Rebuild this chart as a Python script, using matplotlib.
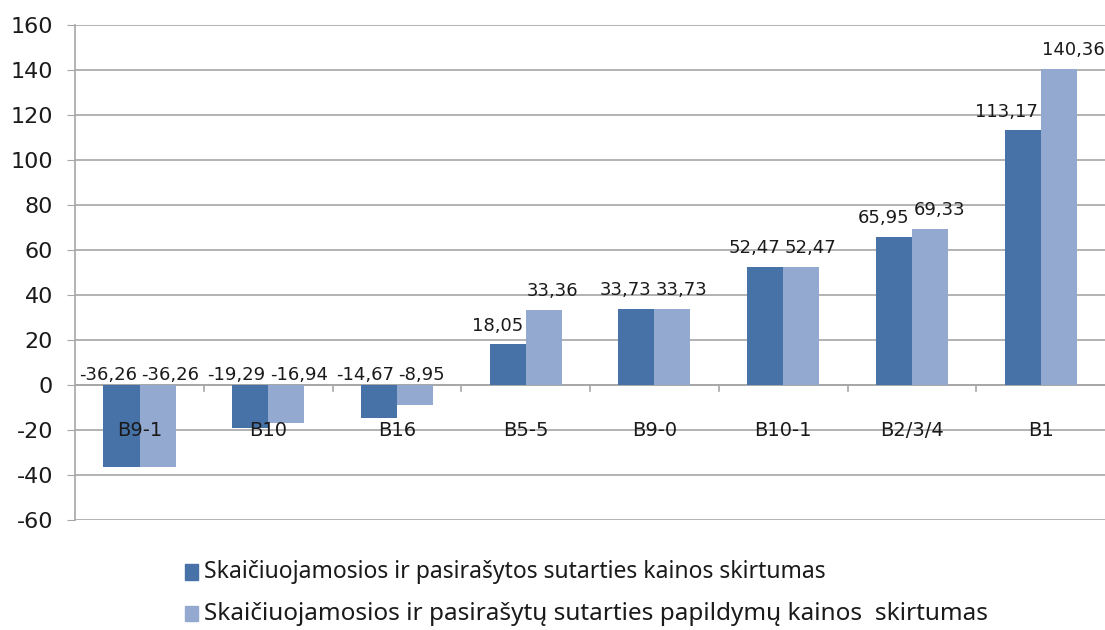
import matplotlib
matplotlib.use("Agg")
import matplotlib.pyplot as plt
import numpy as np

categories = ["B9-1", "B10", "B16", "B5-5", "B9-0", "B10-1", "B2/3/4", "B1"]
signed = [-36.26, -19.29, -14.67, 18.05, 33.73, 52.47, 65.95, 113.17]
addenda = [-36.26, -16.94, -8.95, 33.36, 33.73, 52.47, 69.33, 140.36]
series_names = [
    "Skaičiuojamosios ir pasirašytos sutarties kainos skirtumas",
    "Skaičiuojamosios ir pasirašytų sutarties papildymų kainos  skirtumas",
]
yticks = list(range(-60, 161, 20))

num_font = "DejaVu Sans"
legend_font = "Noto Sans"

dark = "#4672A8"
light = "#94A9D0"
grid = "#A6A6A6"
ink = "#1a1a1a"

fig = plt.figure(figsize=(11.05, 6.3), dpi=100)
ax = fig.add_axes([0.068, 0.1746, 0.932, 0.7857])

x = np.arange(len(categories))
w = 0.28
ax.bar(x - w / 2, signed, w, color=dark, zorder=3)
ax.bar(x + w / 2, addenda, w, color=light, zorder=3)


def fmt(v):
    return f"{v:.2f}".replace(".", ",")


# dark labels hug the right edge of their bar, light ones the left edge,
# so the pairs sit side by side like in the original
for xi, a, b in zip(x, signed, addenda):
    ax.annotate(fmt(a), (xi, max(a, 0)), xytext=(-2, 7 if a > 0 else 1),
                textcoords="offset points", ha="right", va="bottom",
                fontsize=13, family=num_font, color=ink, zorder=4)
    ax.annotate(fmt(b), (xi, max(b, 0)), xytext=(1, 7 if b > 0 else 1),
                textcoords="offset points", ha="left", va="bottom",
                fontsize=13, family=num_font, color=ink, zorder=4)
    ax.text(xi, -20, categories[int(xi)], ha="center", va="center",
            fontsize=14, family=num_font, color=ink, zorder=4)

ax.set_xlim(-0.5, len(categories) - 0.5)
ax.set_ylim(-60, 160)
ax.set_yticks(yticks)
ax.set_yticklabels([str(t) for t in yticks], fontsize=16, family=num_font, color=ink)
ax.yaxis.grid(True, color=grid, linewidth=1.2, zorder=0)
ax.set_xticks([])
for s in ("top", "right", "bottom"):
    ax.spines[s].set_visible(False)
ax.spines["left"].set_color(grid)
ax.spines["left"].set_linewidth(1.2)
ax.tick_params(axis="y", length=6, color=grid, pad=10)

# zero axis with category separators
ax.axhline(0, color=grid, linewidth=1.2, zorder=2)
for b in x[:-1] + 0.5:
    ax.plot([b, b], [0, -2.5], color=grid, linewidth=1.2, zorder=2)

# legend below the plot (second entry is drawn a bit wider in the original)
for i, (name, col, size) in enumerate(zip(series_names, [dark, light], [16.5, 17.5])):
    yy = 0.092 - i * 0.066
    fig.patches.append(plt.Rectangle((0.167, yy - 0.012), 0.0125, 0.024,
                                     transform=fig.transFigure, color=col))
    fig.text(0.185, yy, name, ha="left", va="center", fontsize=size,
             family=legend_font, color=ink)

fig.savefig("out.png", dpi=100)
